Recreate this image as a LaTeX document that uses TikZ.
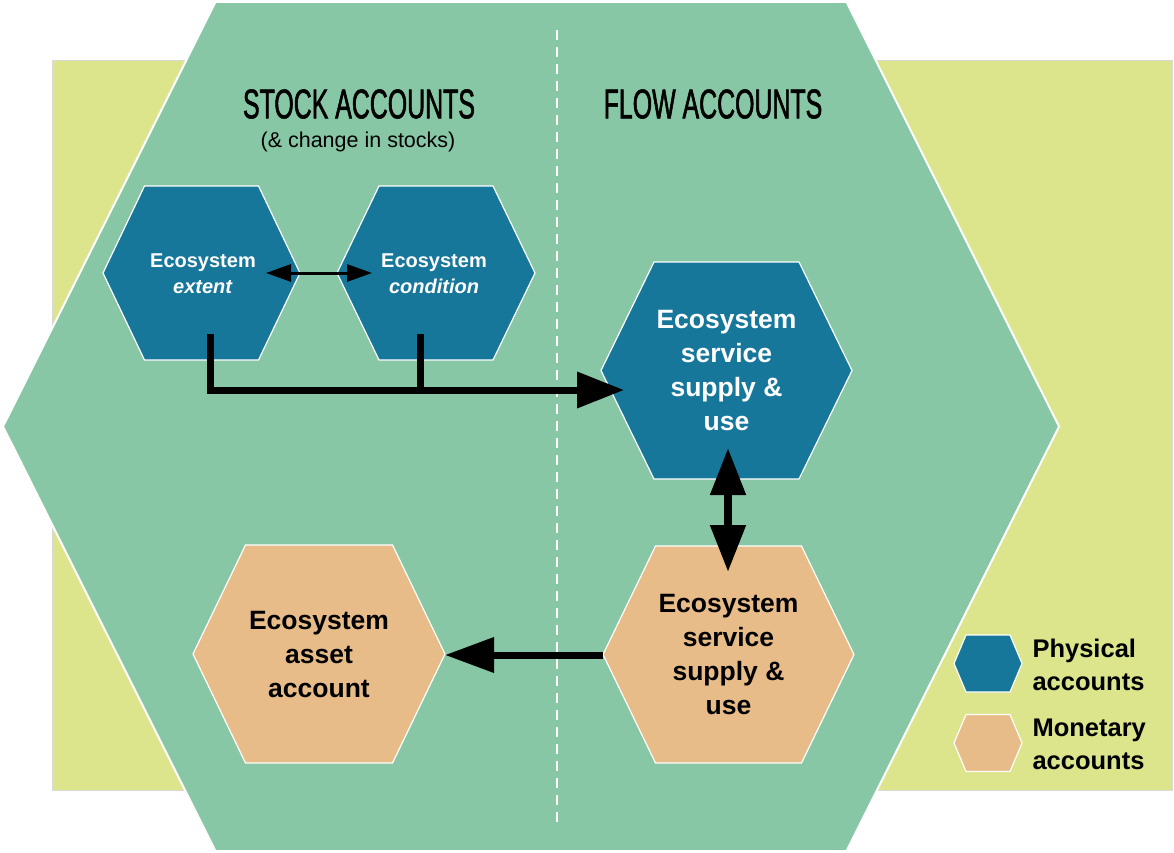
\documentclass[tikz,border=0pt]{standalone}
\usepackage{fontspec}
\setmainfont{Liberation Sans}
\newfontfamily\condfont[FakeStretch=0.6,FakeBold=1.3]{Liberation Sans}
\usetikzlibrary{arrows.meta}
\definecolor{bgyellow}{HTML}{DCE48C}
\definecolor{biggreen}{HTML}{88C7A5}
\definecolor{physblue}{HTML}{16779B}
\definecolor{monorange}{HTML}{E8BC89}
\newcommand\myhex[7]{%
  \path[#7] ({#2-#4},#3) -- ({#2-#6},{#3-#5}) -- ({#2+#6},{#3-#5}) -- ({#2+#4},#3) -- ({#2+#6},{#3+#5}) -- ({#2-#6},{#3+#5}) -- cycle;
  \coordinate (#1-W) at ({#2-#4},#3);
  \coordinate (#1-E) at ({#2+#4},#3);
  \coordinate (#1-N) at (#2,{#3-#5});
  \coordinate (#1-S) at (#2,{#3+#5});
}
\tikzset{
  physhex/.style={fill=physblue,draw=white,line width=1.2pt},
  monhex/.style={fill=monorange,draw=white,line width=1.2pt},
  bigtxt/.style={align=center,font=\bfseries\fontsize{26.5}{34}\selectfont},
  smalltxt/.style={align=center,text=white,font=\bfseries\fontsize{20}{26}\selectfont},
  legtxt/.style={align=left,anchor=west,font=\bfseries\fontsize{25.5}{33}\selectfont},
  titletxt/.style={font=\condfont\fontsize{41.5}{42}\selectfont},
  thinarrow/.style={line width=3pt,{Triangle[length=25pt,width=17pt]}-{Triangle[length=25pt,width=17pt]}},
  thickline/.style={line width=7pt},
  bigtip/.style={-{Triangle[length=47pt,width=35pt]}},
}
\begin{document}
\begin{tikzpicture}[x=1pt,y=-1pt]
\useasboundingbox (0,0) rectangle (1174,853);
% yellow background
\fill[bgyellow,draw=black!15,line width=1pt] (52,61) rectangle (1172,790);
% big green hexagon
\myhex{big}{531}{426.5}{528}{424.5}{315.5}{fill=biggreen,draw=white,line width=2pt}
% dashed separator
\coordinate (dtop) at (557,30);
\coordinate (dbot) at (557,827);
\draw[white,line width=2.5pt,dash pattern=on 10pt off 7pt] (dtop) -- (dbot);
% titles
\node[titletxt] (stock) at (359,104) {STOCK ACCOUNTS};
\node[font=\fontsize{21.5}{24}\selectfont] (stocksub) at (358,142) {(\& change in stocks)};
\node[titletxt] (flow) at (713,104) {FLOW ACCOUNTS};
% hexagons
\myhex{ext}{201.5}{273}{98.5}{87}{57}{physhex}
\myhex{cond}{436}{273}{99}{87}{57}{physhex}
\myhex{phys}{726.5}{370.5}{125.5}{108.5}{72.5}{physhex}
\myhex{mon}{728.5}{654.5}{125.5}{108.5}{73}{monhex}
\myhex{asset}{319}{654}{126}{109}{73.5}{monhex}
\myhex{legp}{988}{663.5}{34}{28.5}{22}{physhex}
\myhex{legm}{988}{743}{34}{28.5}{22}{monhex}
% texts
\node[smalltxt] (extT) at (203,274) {Ecosystem\\\textit{extent}};
\node[smalltxt] (condT) at (434,274) {Ecosystem\\\textit{condition}};
\node[bigtxt,text=white] (physT) at (726.5,371) {Ecosystem\\service\\supply \&\\use};
\node[bigtxt] (monT) at (728.5,655) {Ecosystem\\service\\supply \&\\use};
\node[bigtxt] (assetT) at (319,655) {Ecosystem\\asset\\account};
\node[legtxt] (legpT) at (1029,665) {Physical\\accounts};
\node[legtxt] (legmT) at (1029,744) {Monetary\\accounts};
% arrows
\coordinate (ea) at (266,273);
\coordinate (ca) at (372,273);
\draw[thinarrow] (ea) -- (ca);
\coordinate (extfoot) at (210,334);
\coordinate (condfoot) at (420,334);
\coordinate (corner) at (210,390);
\coordinate (join) at (420,390);
\coordinate (physin) at (624,390);
\draw[thickline,line cap=butt] (condfoot) -- (join);
\draw[thickline,bigtip] (extfoot) -- (corner) -- (physin);
\coordinate (vtop) at (728,448);
\coordinate (vbot) at (728,572);
\draw[line width=8pt,{Triangle[length=47pt,width=34pt]}-{Triangle[length=47pt,width=34pt]}] (vtop) -- (vbot);
\coordinate (monout) at (603,655);
\coordinate (assetin) at (445,655);
\draw[thickline,-{Triangle[length=49pt,width=34pt]}] (monout) -- (assetin);
\end{tikzpicture}
\end{document}
